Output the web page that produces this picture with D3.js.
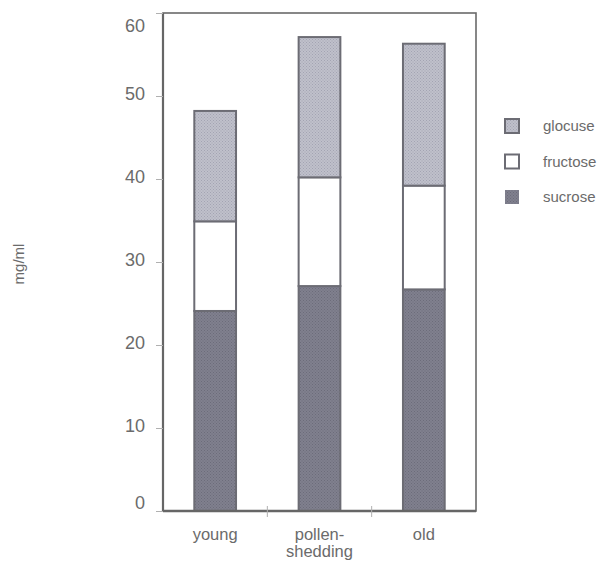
<!DOCTYPE html>
<html>
<head>
<meta charset="utf-8">
<script src="https://cdn.jsdelivr.net/npm/d3@7"></script>
<style>
  html, body { margin: 0; padding: 0; background: #fff; }
  svg { display: block; }
  text { font-family: "Liberation Sans", Arial, Helvetica, sans-serif; fill: #6b6b6b; }
</style>
</head>
<body>
<svg id="chart" width="605" height="564"></svg>
<script>
// Sugar content of nectar (mg/ml) by flower stage
const stages = ["young", "pollen-shedding", "old"];
const stageLabels = [["young"], ["pollen-", "shedding"], ["old"]];
const sucrose  = [24.1, 27.1, 26.7];
const fructose = [10.8, 13.1, 12.5];
const glucose  = [13.3, 16.9, 17.1];
const seriesNames  = ["sucrose", "fructose", "glucose"];
const legendLabels = ["glocuse", "fructose", "sucrose"];
const yTicks = [0, 10, 20, 30, 40, 50, 60];

const rows = stages.map((s, i) => ({
  stage: s, sucrose: sucrose[i], fructose: fructose[i], glucose: glucose[i]
}));

const svg = d3.select("#chart");
const plot = { left: 163, right: 476, top: 13, bottom: 511 };

const x = d3.scaleBand().domain(stages).range([plot.left, plot.right]).paddingInner(0.6).paddingOuter(0.3);
const band = d3.scaleBand().domain(stages).range([plot.left, plot.right]);
const y = d3.scaleLinear().domain([0, 60]).range([plot.bottom, plot.top]);

// dotted textures for the shaded segments
const defs = svg.append("defs");
function dotted(id, base, dot) {
  const p = defs.append("pattern").attr("id", id).attr("patternUnits", "userSpaceOnUse")
    .attr("width", 3).attr("height", 3);
  p.append("rect").attr("width", 3).attr("height", 3).attr("fill", base);
  p.append("rect").attr("x", 0).attr("y", 0).attr("width", 1).attr("height", 1).attr("fill", dot);
  p.append("rect").attr("x", 1.5).attr("y", 1.5).attr("width", 1).attr("height", 1).attr("fill", dot);
}
dotted("texGlu", "#bfc0cb", "#a3a4b2");
dotted("texSuc", "#80808e", "#6c6c7a");

const fills = { sucrose: "url(#texSuc)", fructose: "#ffffff", glucose: "url(#texGlu)" };
const edge = "#6c6c74";

// stacked bars
const stack = d3.stack().keys(seriesNames)(rows);
svg.append("g").selectAll("g").data(stack).join("g")
  .attr("fill", d => fills[d.key])
  .selectAll("rect").data(d => d).join("rect")
  .attr("x", d => x(d.data.stage))
  .attr("width", x.bandwidth())
  .attr("y", d => y(d[1]))
  .attr("height", d => y(d[0]) - y(d[1]))
  .attr("stroke", edge)
  .attr("stroke-width", 2);

// frame
svg.append("rect")
  .attr("x", plot.left).attr("y", plot.top)
  .attr("width", plot.right - plot.left).attr("height", plot.bottom - plot.top)
  .attr("fill", "none").attr("stroke", "#6a6a6a").attr("stroke-width", 1.6);
svg.append("line").attr("x1", plot.left).attr("x2", plot.left)
  .attr("y1", plot.top).attr("y2", plot.bottom).attr("stroke", "#666").attr("stroke-width", 2.2);
svg.append("line").attr("x1", plot.left).attr("x2", plot.right)
  .attr("y1", plot.bottom).attr("y2", plot.bottom).attr("stroke", "#666").attr("stroke-width", 2.4);

// y axis
const yAxis = d3.axisLeft(y).tickValues(yTicks).tickSize(7).tickPadding(11);
const gy = svg.append("g").attr("transform", `translate(${plot.left},0)`).call(yAxis);
gy.select(".domain").remove();
gy.selectAll(".tick line").attr("stroke", "#b0b0b0").attr("stroke-width", 1);
gy.selectAll(".tick text")
  .style("font-size", "18px").attr("fill", "#6b6b6b")
  .attr("dy", d => d === 60 ? "1.0em" : d === 0 ? "-0.12em" : "0.2em");

// x axis: labels centred on bars, ticks at category boundaries
const gx = svg.append("g");
stages.slice(1).forEach(s => {
  gx.append("line").attr("x1", band(s)).attr("x2", band(s))
    .attr("y1", plot.bottom - 5).attr("y2", plot.bottom + 6)
    .attr("stroke", "#b0b0b0").attr("stroke-width", 1);
});
stages.forEach((s, i) => {
  const t = gx.append("text").attr("text-anchor", "middle")
    .attr("x", x(s) + x.bandwidth() / 2).attr("y", plot.bottom + 29)
    .style("font-size", "16.5px");
  stageLabels[i].forEach((line, j) => {
    t.append("tspan").attr("x", x(s) + x.bandwidth() / 2).attr("dy", j === 0 ? 0 : 17).text(line);
  });
});

// y axis title
svg.append("text")
  .attr("transform", "translate(24,264) rotate(-90)")
  .attr("text-anchor", "middle")
  .style("font-size", "15px")
  .text("mg/ml");

// legend
const legendFill = [fills.glucose, fills.fructose, fills.sucrose];
const lg = svg.append("g");
legendLabels.forEach((name, i) => {
  const cy = 126 + i * 35.5;
  lg.append("rect").attr("x", 505).attr("y", cy - 7).attr("width", 14).attr("height", 14)
    .attr("fill", legendFill[i]).attr("stroke", edge).attr("stroke-width", i === 2 ? 0 : 2);
  lg.append("text").attr("x", 543).attr("y", cy + 5).style("font-size", "15px").text(name);
});
</script>
</body>
</html>
